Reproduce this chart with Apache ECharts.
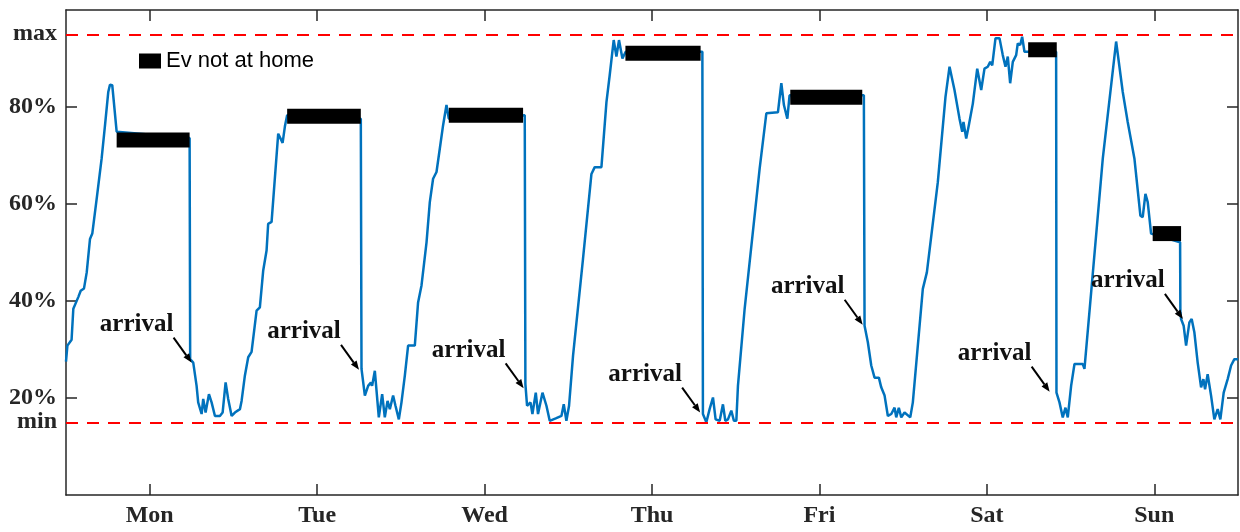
<!DOCTYPE html>
<html>
<head>
<meta charset="utf-8">
<script src="https://cdn.jsdelivr.net/npm/echarts@6/dist/echarts.min.js"></script>
<style>
  html, body { margin: 0; padding: 0; background: #fff; }
  #chart { width: 1240px; height: 532px; }
</style>
</head>
<body>
<div id="chart"></div>
<script>
// state of charge over the week, hours from Monday 00:00
const hours = [
  0.0, 0.2, 0.8, 1.05, 1.76, 2.11, 2.58, 2.97, 3.44, 3.77, 4.4, 5.11, 5.59, 6.06, 6.3, 6.63, 7.26,
  17.72, 17.8, 18.24, 18.72, 18.95, 19.44, 19.67, 20.01, 20.49, 20.87, 21.35, 22.06, 22.45, 22.88, 23.25,
  23.74, 24.21, 24.93, 25.17, 25.64, 26.12, 26.6, 27.32, 27.79, 28.27, 28.75, 28.98, 29.47, 30.42, 31.05,
  31.4, 31.7, 42.26, 42.36, 42.84, 43.31, 43.7, 43.88, 44.27, 44.84, 45.32, 45.7, 46.09, 46.42, 46.89,
  47.23, 47.71, 48.09, 48.57, 49.04, 50.0, 50.47, 50.96, 51.68, 52.15, 52.62, 53.11, 53.58, 54.05, 54.54,
  54.87, 65.76, 65.85, 66.09, 66.58, 66.86, 67.34, 67.66, 68.3, 68.87, 69.34, 70.2, 71.02, 71.35, 71.73,
  72.11, 72.68, 74.11, 75.32, 75.79, 76.75, 77.47, 77.94, 78.51, 78.9, 79.27, 79.76, 80.23, 91.22, 91.3,
  91.79, 92.26, 92.74, 93.12, 93.7, 94.17, 94.51, 94.89, 95.37, 95.74, 96.09, 96.32, 97.28, 99.43, 99.67,
  100.39, 102.05, 102.54, 102.91, 103.4, 103.72, 114.37, 114.47, 114.94, 115.43, 115.9, 116.52, 116.86,
  117.34, 117.81, 118.3, 118.77, 119.01, 119.38, 119.73, 120.2, 121.02, 121.39, 122.82, 123.4, 124.97,
  126.07, 126.65, 127.36, 128.08, 128.47, 128.65, 129.04, 129.41, 129.99, 130.62, 131.19, 131.66, 132.13,
  132.48, 132.77, 133.24, 133.81, 134.28, 134.67, 135.0, 135.34, 135.72, 136.2, 136.43, 136.78, 137.06,
  137.39, 137.92, 141.93, 141.98, 142.41, 142.88, 143.27, 143.6, 144.08, 144.56, 145.75, 145.99, 146.95,
  148.62, 150.53, 151.48, 152.19, 153.15, 154.01, 154.34, 154.73, 155.06, 155.54, 159.7, 159.74, 159.84,
  160.21, 160.56, 161.03, 161.36, 161.75, 162.22, 162.71, 163.04, 163.28, 163.65, 164.14, 164.61, 165.09,
  165.47, 165.95, 166.52, 167.01, 167.48, 168.0
]
const soc = [
  27.5, 30.8, 32, 38.4, 40.8, 42.1, 42.6, 45.9, 52.8, 53.9, 61.1, 69.4, 76.2, 83.1, 84.6, 84.5, 74.9,
  73.6, 28, 27.3, 22.5, 19.1, 16.7, 19.8, 17, 20.8, 19.1, 16.3, 16.3, 17, 23.2, 19.8,
  16.3, 17, 17.7, 19.4, 24.6, 28.4, 29.5, 38, 38.7, 46.3, 50.4, 55.9, 56.3, 74.5, 72.6,
  76.2, 78.3, 77.6, 26, 20.5, 22.5, 23.2, 22.5, 25.6, 16, 20.8, 16, 19.4, 17.7, 20.5,
  18.4, 15.6, 19.1, 24.6, 30.8, 30.8, 39.7, 43.2, 52.1, 60.4, 65.2, 66.6, 71.4, 76.2, 80.4,
  77.6, 78.3, 22.9, 18.4, 19.1, 16.7, 21.1, 16.7, 21.1, 18.4, 15.3, 15.8, 16.3, 18.7, 15.3,
  18.4, 28.7, 48.7, 66.2, 67.6, 67.6, 81, 86.6, 93.8, 90.4, 93.8, 90, 91.4, 91.4, 16.7,
  15, 17.7, 20.1, 15.6, 15.3, 18.7, 15.3, 15.6, 17.4, 15.3, 15.3, 22.5, 38.4, 67.3, 67.6,
  78.7, 78.9, 84.9, 80.4, 77.6, 82.4, 82.4, 34.9, 31.5, 26.7, 24.2, 24.2, 22.2,
  20.5, 16.3, 16.7, 18, 16, 18, 16, 17, 16, 19.1, 42.5, 45.9, 64.5,
  82.1, 88.3, 83.5, 77.6, 74.9, 76.9, 73.5, 76.2, 80.7, 87.9, 83.5, 87.9, 88.3,
  89.3, 88.6, 94.2, 94.2, 90.7, 88.3, 90.4, 84.9, 89.3, 90.7, 93.1, 92.8, 94.5,
  91.4, 91.4, 91.4, 21.1, 19.1, 16, 18, 16, 22.5, 27, 27, 26, 41.8,
  69.4, 93.5, 83.1, 76.9, 69.4, 57.6, 57.3, 62.1, 60.4, 53.9, 52.1, 37.7, 36.3,
  34.9, 30.8, 35.6, 36.3, 33.5, 27.3, 22.2, 23.9, 21.8, 24.9, 20.5, 15.6, 17.7,
  15.6, 21.1, 23.9, 26.7, 28, 28
]

// periods when the EV is away
const awayStart = [7.26, 31.7, 54.87, 80.19, 103.82, 137.92, 155.77]
const awayEnd = [17.72, 42.26, 65.52, 90.97, 114.14, 142.02, 159.84]
const awaySoc = [73.2, 78.1, 78.3, 91.1, 82.0, 91.8, 53.9]

// arrival points (arrow tips)
const arrivalHours = [18.0, 42.0, 65.6, 90.9, 114.2, 141.0, 160.1]
const arrivalSoc = [27.3, 25.8, 22.0, 17.0, 35.1, 21.3, 36.3]

const dayCenters = [12, 36, 60, 84, 108, 132, 156]
const dayLabels = ['Mon', 'Tue', 'Wed', 'Thu', 'Fri', 'Sat', 'Sun']

const socMin = 15
const socMax = 95
const yTicks = [20, 40, 60, 80]
const yLabelValues = [15, 20, 40, 60, 80, 95]
const yLabelTexts = ['min', '20%', '40%', '60%', '80%', 'max']

const axisColor = '#262626'
const serif = '"Liberation Serif", "Times New Roman", serif'

const chart = echarts.init(document.getElementById('chart'))

const baseAxisLine = { show: true, onZero: false, lineStyle: { color: axisColor, width: 1.5 } }
const tickStyle = { color: axisColor, width: 1.5 }

chart.setOption({
  animation: false,
  grid: { left: 66, right: 2, top: 10, bottom: 37, containLabel: false },
  legend: {
    data: [{ name: 'Ev not at home', icon: 'rect' }],
    left: 134,
    top: 45,
    itemWidth: 22,
    itemHeight: 15,
    selectedMode: false,
    textStyle: { fontFamily: '"Liberation Sans", Arial, sans-serif', fontSize: 22, color: '#000' },
  },
  xAxis: [
    {
      type: 'value',
      min: 0,
      max: 168,
      axisLine: baseAxisLine,
      splitLine: { show: false },
      axisTick: { inside: true, length: 11, customValues: dayCenters, lineStyle: tickStyle },
      axisLabel: {
        customValues: dayCenters,
        margin: 9,
        color: axisColor,
        fontFamily: serif,
        fontWeight: 'bold',
        fontSize: 24,
        formatter: v => dayLabels[dayCenters.indexOf(v)] ?? '',
      },
    },
    {
      type: 'value',
      position: 'top',
      min: 0,
      max: 168,
      axisLine: baseAxisLine,
      splitLine: { show: false },
      axisTick: { inside: true, length: 11, customValues: dayCenters, lineStyle: tickStyle },
      axisLabel: { show: false },
    },
  ],
  yAxis: [
    {
      type: 'value',
      min: 0,
      max: 100,
      axisLine: baseAxisLine,
      splitLine: { show: false },
      axisTick: { inside: true, length: 11, customValues: yTicks, lineStyle: tickStyle },
      axisLabel: {
        customValues: yLabelValues,
        margin: 9,
        color: axisColor,
        fontFamily: serif,
        fontWeight: 'bold',
        fontSize: 24,
        formatter: v => yLabelTexts[yLabelValues.indexOf(v)] ?? '',
      },
    },
    {
      type: 'value',
      position: 'right',
      min: 0,
      max: 100,
      axisLine: baseAxisLine,
      splitLine: { show: false },
      axisTick: { inside: true, length: 11, customValues: yTicks, lineStyle: tickStyle },
      axisLabel: { show: false },
    },
  ],
  series: [
    {
      name: 'SOC',
      type: 'line',
      data: hours.map((h, i) => [h, soc[i]]),
      showSymbol: false,
      lineStyle: { color: '#0072BD', width: 2.5 },
      itemStyle: { color: '#0072BD' },
      z: 3,
      markLine: {
        silent: true,
        symbol: 'none',
        label: { show: false },
        lineStyle: { color: '#ff0000', width: 2, type: [12, 9] },
        data: [{ yAxis: socMax }, { yAxis: socMin }],
      },
    },
    {
      name: 'Ev not at home',
      type: 'custom',
      data: awayStart.map((s, i) => [s, awayEnd[i], awaySoc[i]]),
      encode: { x: [0, 1], y: 2 },
      itemStyle: { color: '#000' },
      z: 4,
      renderItem(params, api) {
        const a = api.coord([api.value(0), api.value(2)])
        const b = api.coord([api.value(1), api.value(2)])
        const h = 15
        return {
          type: 'rect',
          shape: { x: a[0], y: a[1] - h / 2, width: b[0] - a[0], height: h },
          style: { fill: '#000' },
        }
      },
    },
  ],
})

// arrival annotations: text plus arrow pointing to the curve
function arrivalGraphics() {
  const items = []
  const dx = 18, dy = 25
  const len = Math.hypot(dx, dy)
  const ux = dx / len, uy = dy / len
  arrivalHours.forEach((h, i) => {
    const [px, py] = chart.convertToPixel({ xAxisIndex: 0, yAxisIndex: 0 }, [h, arrivalSoc[i]])
    const head = 9, half = 3.5
    const bx = px - ux * head, by = py - uy * head
    items.push({
      type: 'line',
      shape: { x1: px - dx, y1: py - dy, x2: bx, y2: by },
      style: { stroke: '#000', lineWidth: 2 },
      z: 10,
    })
    items.push({
      type: 'polygon',
      shape: { points: [[px, py], [bx - uy * half, by + ux * half], [bx + uy * half, by - ux * half]] },
      style: { fill: '#000' },
      z: 10,
    })
    items.push({
      type: 'text',
      x: px - 55,
      y: py - 38,
      style: {
        text: 'arrival',
        font: 'bold 25px ' + serif,
        fill: '#111',
        align: 'center',
        verticalAlign: 'middle',
      },
      z: 10,
    })
  })
  return items
}

chart.setOption({ graphic: arrivalGraphics() })
</script>
</body>
</html>
